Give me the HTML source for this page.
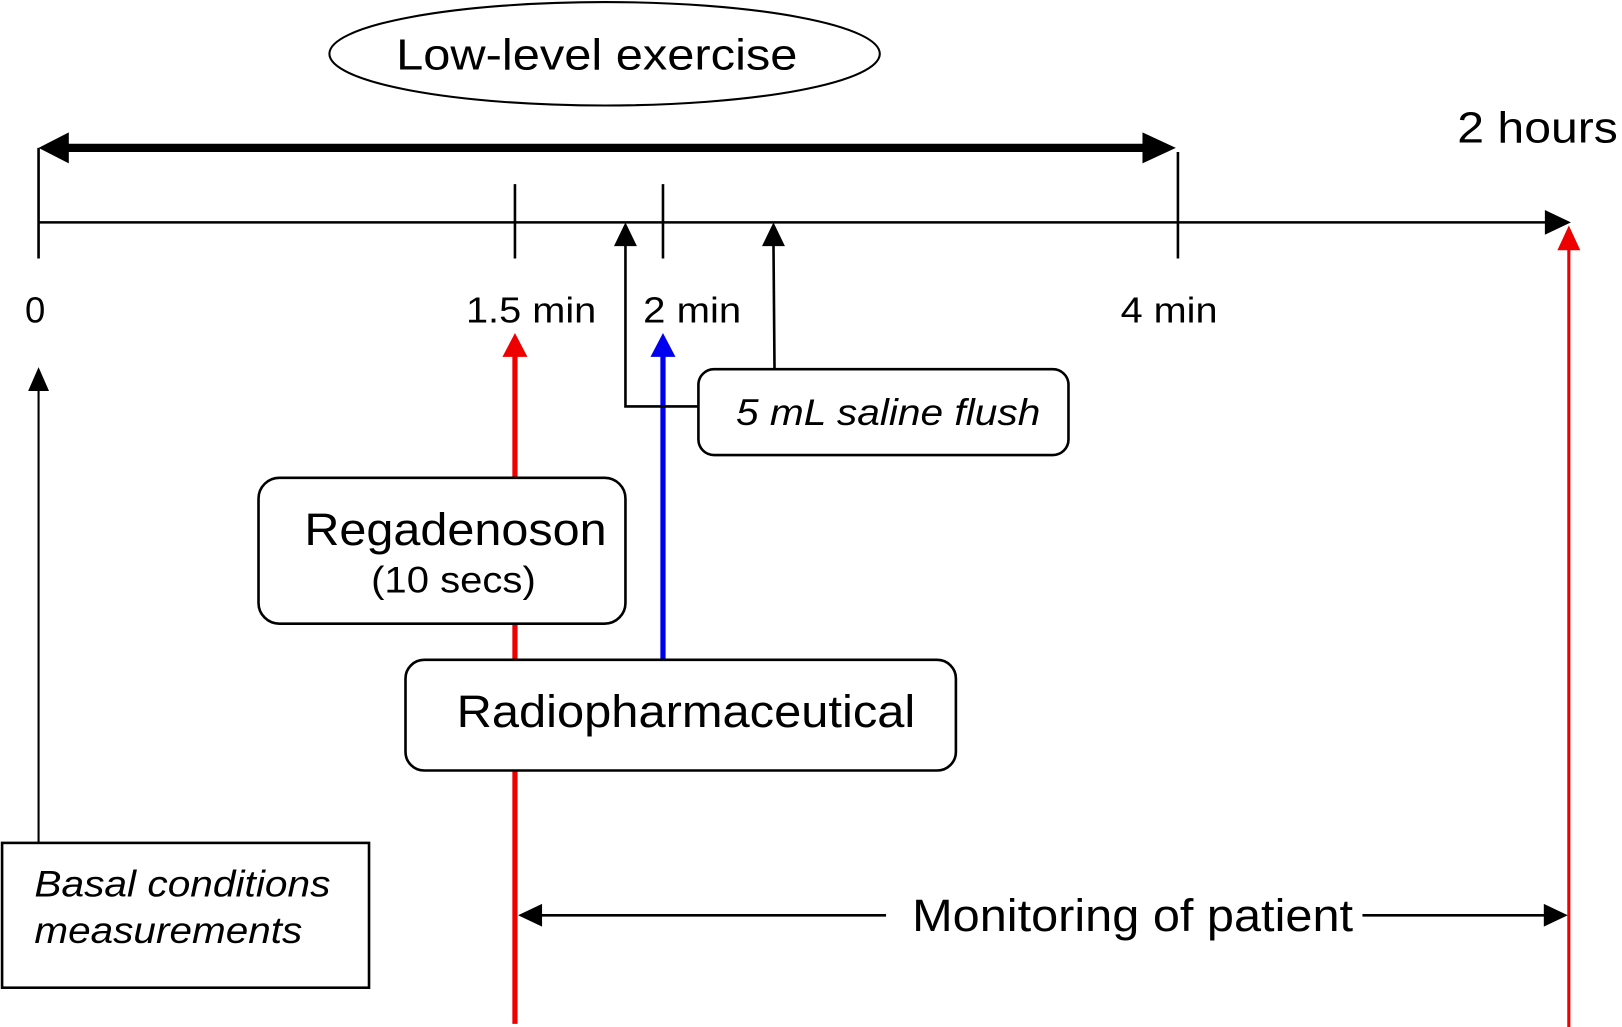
<!DOCTYPE html>
<html><head><meta charset="utf-8"><style>html,body{margin:0;padding:0;background:#fff}svg{display:block}</style></head>
<body>
<svg width="1622" height="1027" viewBox="0 0 1556 993" preserveAspectRatio="none" xmlns="http://www.w3.org/2000/svg" font-family="Liberation Sans, sans-serif">
<rect width="1556" height="993" fill="#fff"/>
<ellipse cx="580" cy="52" rx="264" ry="50" fill="#fff" stroke="#000" stroke-width="2"/>
<text x="380" y="67" font-size="42" textLength="385" lengthAdjust="spacingAndGlyphs">Low-level exercise</text>
<text x="1398" y="138" font-size="42" textLength="154" lengthAdjust="spacingAndGlyphs">2 hours</text>
<line x1="60" y1="143" x2="1102" y2="143" stroke="#000" stroke-width="8"/>
<polygon points="37,143 66,128 66,158" fill="#000"/>
<polygon points="1128,143 1096,128 1096,158" fill="#000"/>
<line x1="37" y1="215" x2="1485" y2="215" stroke="#000" stroke-width="2.5"/>
<polygon points="1507,215 1482,203 1482,227" fill="#000"/>
<g stroke="#000" stroke-width="2.5">
<line x1="37" y1="143" x2="37" y2="250"/>
<line x1="1130" y1="147" x2="1130" y2="250"/>
<line x1="494" y1="178" x2="494" y2="250"/>
<line x1="636" y1="178" x2="636" y2="250"/>
</g>
<g font-size="35" lengthAdjust="spacingAndGlyphs">
<text x="24" y="312">0</text>
<text x="447" y="312" textLength="125" lengthAdjust="spacingAndGlyphs">1.5 min</text>
<text x="617" y="312" textLength="94" lengthAdjust="spacingAndGlyphs">2 min</text>
<text x="1075" y="312" textLength="93" lengthAdjust="spacingAndGlyphs">4 min</text>
</g>
<line x1="1505" y1="240" x2="1505" y2="993" stroke="#e00" stroke-width="3"/>
<polygon points="1505,218 1494,242 1516,242" fill="#e00"/>
<line x1="494" y1="340" x2="494" y2="990" stroke="#e00" stroke-width="5"/>
<polygon points="494,322 482,345 506,345" fill="#e00"/>
<line x1="636" y1="340" x2="636" y2="640" stroke="#00e" stroke-width="5"/>
<polygon points="636,322 624,345 648,345" fill="#00e"/>
<line x1="37" y1="375" x2="37" y2="815" stroke="#000" stroke-width="2"/>
<polygon points="37,355 27,378 47,378" fill="#000"/>
<polyline points="670,393 600,393 600,235" fill="none" stroke="#000" stroke-width="2.5"/>
<polygon points="600,215 589,238 611,238" fill="#000"/>
<line x1="742" y1="235" x2="743" y2="357" stroke="#000" stroke-width="2.5"/>
<polygon points="742,215 731,238 753,238" fill="#000"/>
<rect x="670" y="357" width="355" height="83" rx="15" fill="#fff" stroke="#000" stroke-width="2.5"/>
<text x="706" y="411" font-size="36" font-style="italic" textLength="292" lengthAdjust="spacingAndGlyphs">5 mL saline flush</text>
<rect x="248" y="462" width="352" height="141" rx="20" fill="#fff" stroke="#000" stroke-width="2.5"/>
<text x="292" y="527" font-size="44" textLength="290" lengthAdjust="spacingAndGlyphs">Regadenoson</text>
<text x="356" y="573" font-size="36" textLength="158" lengthAdjust="spacingAndGlyphs">(10 secs)</text>
<rect x="389" y="638" width="528" height="107" rx="18" fill="#fff" stroke="#000" stroke-width="2.5"/>
<text x="438" y="703" font-size="44" textLength="440" lengthAdjust="spacingAndGlyphs">Radiopharmaceutical</text>
<rect x="2" y="815" width="352" height="140" fill="#fff" stroke="#000" stroke-width="2.5"/>
<text x="33" y="867" font-size="36" font-style="italic" textLength="284" lengthAdjust="spacingAndGlyphs">Basal conditions</text>
<text x="33" y="912" font-size="36" font-style="italic" textLength="257" lengthAdjust="spacingAndGlyphs">measurements</text>
<line x1="515" y1="885" x2="850" y2="885" stroke="#000" stroke-width="2.5"/>
<line x1="1307" y1="885" x2="1485" y2="885" stroke="#000" stroke-width="2.5"/>
<polygon points="497,885 520,874 520,896" fill="#000"/>
<polygon points="1504,885 1481,874 1481,896" fill="#000"/>
<text x="875" y="900" font-size="44" textLength="423" lengthAdjust="spacingAndGlyphs">Monitoring of patient</text>
</svg>
</body></html>
